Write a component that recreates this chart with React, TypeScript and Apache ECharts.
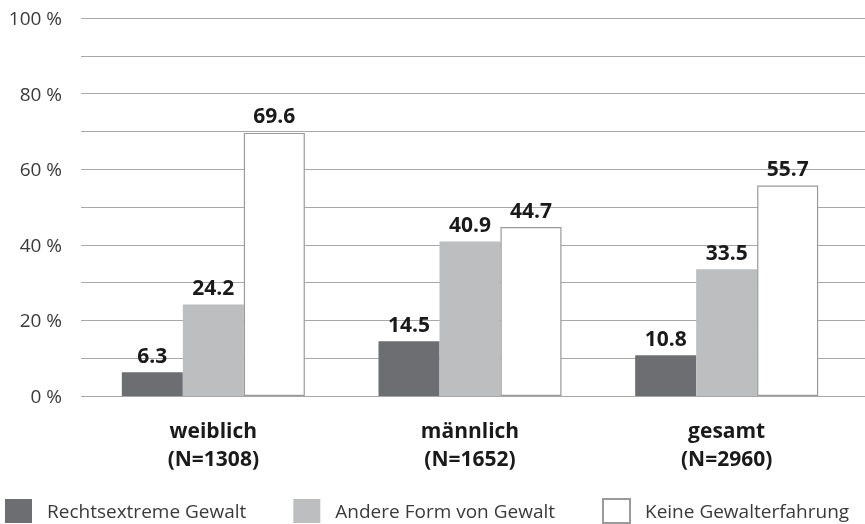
import React, { useEffect, useRef } from "react";
import * as echarts from "echarts";

const categories = ["weiblich\n(N=1308)", "männlich\n(N=1652)", "gesamt\n(N=2960)"];
const seriesNames = ["Rechtsextreme Gewalt", "Andere Form von Gewalt", "Keine Gewalterfahrung"];
const rechtsextrem = [6.3, 14.5, 10.8];
const andere = [24.2, 40.9, 33.5];
const keine = [69.6, 44.7, 55.7];
const yTicks = [0, 20, 40, 60, 80, 100];

const FONT = "'Open Sans', 'Noto Sans', sans-serif";

export default function App() {
  const ref = useRef<HTMLDivElement>(null);
  useEffect(() => {
    if (!ref.current) return;
    const chart = echarts.init(ref.current, undefined, { renderer: "svg" });
    const labelCfg = {
      show: true,
      position: "top",
      distance: 7,
      color: "#1a1a1a",
      fontFamily: FONT,
      fontWeight: "bold",
      fontSize: 21,
      formatter: (p: any) => Number(p.value).toFixed(1),
    };
    const mk = (name: string, data: number[], color: string, border?: string) => ({
      name,
      type: "bar",
      xAxisIndex: 1,
      yAxisIndex: 1,
      data,
      barWidth: 61,
      barGap: "0%",
      itemStyle: border
        ? { color, borderColor: border, borderWidth: 1.2 }
        : { color },
      label: labelCfg,
    });
    chart.setOption({
      animation: false,
      textStyle: { fontFamily: FONT },
      grid: [
        { left: 81, right: 0, top: 18, bottom: 128 },
        { left: 85, right: 10, top: 18, bottom: 128 },
      ],
      xAxis: [
        { type: "category", gridIndex: 0, data: categories, show: false },
        {
          type: "category",
          gridIndex: 1,
          data: categories,
          axisLine: { show: false },
          axisTick: { show: false },
          axisLabel: {
            margin: 20,
            color: "#1a1a1a",
            fontFamily: FONT,
            fontWeight: "bold",
            fontSize: 21,
            lineHeight: 28,
          },
        },
      ],
      yAxis: [
        {
          type: "value",
          gridIndex: 0,
          min: 0,
          max: 100,
          interval: 10,
          axisLine: { show: false },
          axisTick: { show: false },
          splitLine: { lineStyle: { color: "#a8a8a8", width: 1.2 } },
          axisLabel: {
            margin: 19,
            color: "#3a3a3a",
            fontFamily: FONT,
            fontSize: 19,
            formatter: (v: number) => (yTicks.includes(v) ? `${v} %` : ""),
          },
        },
        {
          type: "value",
          gridIndex: 1,
          min: 0,
          max: 100,
          show: false,
          splitLine: { show: false },
        },
      ],
      legend: {
        left: 5,
        top: 498,
        padding: 0,
        itemWidth: 27,
        itemHeight: 24,
        itemGap: 47,
        icon: "rect",
        textStyle: {
          color: "#3a3a3a",
          fontFamily: FONT,
          fontSize: 19,
          lineHeight: 20,
          padding: [0, 0, 0, 10],
        },
        data: seriesNames,
      },
      series: [
        mk(seriesNames[0], rechtsextrem, "#6d6e71"),
        mk(seriesNames[1], andere, "#bcbec0"),
        mk(seriesNames[2], keine, "#ffffff", "#9a9a9a"),
      ],
    });
    return () => chart.dispose();
  }, []);
  return <div ref={ref} style={{ width: 865, height: 524, position: "fixed", left: 0, top: 0 }} />;
}
